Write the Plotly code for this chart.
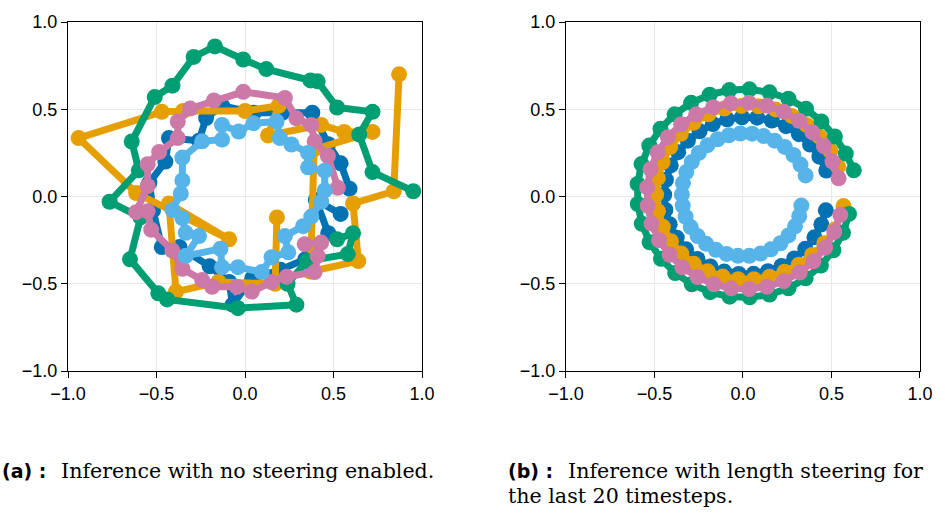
import plotly.graph_objects as go

# Colour per series (Wong palette), in drawing order
series_colors = ["#0072B2", "#E69F00", "#009E73", "#CC79A7", "#56B4E9"]

tick_vals = [-1.0, -0.5, 0.0, 0.5, 1.0]
tick_text = ["\u22121.0", "\u22120.5", "0.0", "0.5", "1.0"]

# ---------------- (a) no steering ----------------
a_blue_x = [0.54, 0.40, 0.47, 0.34, 0.20, 0.04, -0.07, -0.09, -0.20, -0.37, -0.47, -0.52,
            -0.54, -0.45, -0.43, -0.26, -0.22, -0.13, 0.05, 0.21, 0.38, 0.47, 0.54, 0.59]
a_blue_y = [-0.10, -0.02, -0.21, -0.36, -0.42, -0.47, -0.62, -0.49, -0.40, -0.29, -0.29, -0.08,
            0.08, 0.20, 0.335, 0.32, 0.45, 0.52, 0.48, 0.48, 0.48, 0.30, 0.19, 0.045]

a_orange_x = [0.18, 0.17, -0.15, -0.39, -0.43, -0.09, -0.615, -0.94, -0.47, -0.35, 0.0,
              0.19, 0.13, 0.43, 0.56, 0.72, 0.39, 0.37, 0.64, 0.61, 0.84, 0.87]
a_orange_y = [-0.12, -0.50, -0.49, -0.545, -0.04, -0.245, 0.02, 0.335, 0.485, 0.49, 0.49,
              0.52, 0.35, 0.41, 0.37, 0.37, 0.27, -0.43, -0.37, -0.04, 0.03, 0.70]

a_green_x = [0.95, 0.72, 0.645, 0.72, 0.52, 0.41, 0.37, 0.12, -0.01, -0.17, -0.29, -0.41,
             -0.51, -0.64, -0.60, -0.765, -0.59, -0.65, -0.49, -0.44, -0.04, 0.29, 0.24,
             0.35, 0.58, 0.61, 0.52]
a_green_y = [0.03, 0.14, 0.355, 0.485, 0.51, 0.66, 0.665, 0.73, 0.785, 0.86, 0.80, 0.635,
             0.57, 0.315, 0.15, -0.03, -0.12, -0.36, -0.555, -0.59, -0.64, -0.62, -0.50,
             -0.37, -0.33, -0.21, -0.245]

a_pink_x = [0.524, 0.468, 0.393, 0.374, 0.29, 0.225, -0.01, -0.176, -0.31, -0.38, -0.38,
            -0.485, -0.55, -0.55, -0.615, -0.55, -0.53, -0.41, -0.354, -0.242, -0.186,
            -0.046, 0.038, 0.15, 0.235, 0.393, 0.41, 0.43, 0.337]
a_pink_y = [0.05, 0.232, 0.316, 0.41, 0.448, 0.565, 0.60, 0.55, 0.504, 0.43, 0.335,
            0.255, 0.185, 0.06, -0.09, -0.085, -0.19, -0.31, -0.414, -0.479, -0.517,
            -0.517, -0.545, -0.49, -0.46, -0.433, -0.34, -0.264, -0.273]

a_sky_x = [-0.13, -0.036, 0.048, 0.178, 0.197, 0.262, 0.356, 0.356, 0.45, 0.45, 0.43,
           0.374, 0.328, 0.225, 0.244, 0.15, 0.094, -0.04, -0.13, -0.139, -0.335, -0.26,
           -0.335, -0.354, -0.41, -0.363, -0.354, -0.354, -0.242, -0.13]
a_sky_y = [0.41, 0.372, 0.42, 0.43, 0.335, 0.298, 0.25, 0.167, 0.148, 0.035, -0.03,
           -0.115, -0.17, -0.227, -0.32, -0.348, -0.433, -0.405, -0.405, -0.30, -0.34, -0.227,
           -0.208, -0.124, -0.077, 0.017, 0.092, 0.223, 0.316, 0.326]

# ---------------- (b) length steering ----------------
b_blue_x = [0.468, 0.443, 0.404, 0.352, 0.290, 0.218, 0.141, 0.060, -0.024, -0.106, -0.184,
            -0.257, -0.321, -0.374, -0.414, -0.438, -0.445, -0.435, -0.408, -0.366, -0.311,
            -0.245, -0.170, -0.089, -0.005, 0.080, 0.163, 0.243, 0.316, 0.379, 0.432, 0.471]
b_blue_y = [-0.079, -0.160, -0.234, -0.300, -0.355, -0.398, -0.428, -0.443, -0.444, -0.430,
            -0.401, -0.358, -0.303, -0.236, -0.159, -0.077, 0.010, 0.096, 0.178, 0.254, 0.320,
            0.374, 0.415, 0.442, 0.454, 0.452, 0.435, 0.403, 0.357, 0.298, 0.228, 0.149]

b_orange_x = [0.568, 0.520, 0.460, 0.391, 0.316, 0.235, 0.150, 0.062, -0.027, -0.114, -0.199,
              -0.278, -0.348, -0.407, -0.452, -0.480, -0.490, -0.481, -0.454, -0.411, -0.351,
              -0.279, -0.195, -0.105, -0.009, 0.088, 0.184, 0.275, 0.359, 0.432, 0.493, 0.537]
b_orange_y = [-0.055, -0.189, -0.268, -0.335, -0.391, -0.431, -0.460, -0.474, -0.474, -0.459,
              -0.429, -0.385, -0.327, -0.256, -0.174, -0.084, 0.011, 0.105, 0.197, 0.283, 0.359,
              0.422, 0.471, 0.504, 0.519, 0.517, 0.499, 0.462, 0.410, 0.343, 0.262, 0.171]

b_green_x = [0.599, 0.565, 0.511, 0.440, 0.354, 0.257, 0.150, 0.038, -0.075, -0.185, -0.289,
             -0.383, -0.463, -0.527, -0.571, -0.594, -0.595, -0.573, -0.529, -0.466, -0.386,
             -0.293, -0.188, -0.077, 0.037, 0.150, 0.257, 0.356, 0.443, 0.519, 0.581, 0.626]
b_green_y = [-0.100, -0.208, -0.308, -0.396, -0.469, -0.526, -0.562, -0.578, -0.574, -0.548,
             -0.503, -0.439, -0.357, -0.262, -0.156, -0.043, 0.072, 0.186, 0.292, 0.388, 0.471,
             0.537, 0.583, 0.610, 0.614, 0.597, 0.560, 0.503, 0.430, 0.344, 0.246, 0.150]

b_pink_x = [0.550, 0.516, 0.464, 0.398, 0.320, 0.231, 0.135, 0.035, -0.066, -0.164, -0.257,
            -0.342, -0.414, -0.474, -0.516, -0.538, -0.541, -0.522, -0.482, -0.424, -0.349,
            -0.264, -0.168, -0.068, 0.034, 0.135, 0.231, 0.317, 0.393, 0.457, 0.506, 0.540]
b_pink_y = [-0.105, -0.203, -0.293, -0.371, -0.436, -0.485, -0.517, -0.530, -0.526, -0.503,
            -0.462, -0.406, -0.334, -0.250, -0.155, -0.053, 0.052, 0.156, 0.253, 0.340, 0.414,
            0.471, 0.512, 0.535, 0.537, 0.521, 0.486, 0.434, 0.367, 0.289, 0.200, 0.104]

b_sky_x = [0.330, 0.318, 0.294, 0.257, 0.212, 0.158, 0.099, 0.036, -0.029, -0.093, -0.153,
           -0.208, -0.256, -0.295, -0.324, -0.340, -0.345, -0.339, -0.320, -0.289, -0.249,
           -0.200, -0.143, -0.080, -0.015, 0.052, 0.117, 0.179, 0.236, 0.285, 0.325, 0.354]
b_sky_y = [-0.052, -0.113, -0.171, -0.223, -0.268, -0.303, -0.327, -0.340, -0.340, -0.329,
           -0.305, -0.271, -0.227, -0.175, -0.116, -0.053, 0.012, 0.077, 0.140, 0.198, 0.250,
           0.294, 0.328, 0.351, 0.361, 0.360, 0.346, 0.320, 0.284, 0.238, 0.183, 0.121]

panel_a = [(a_blue_x, a_blue_y), (a_orange_x, a_orange_y), (a_green_x, a_green_y),
           (a_pink_x, a_pink_y), (a_sky_x, a_sky_y)]
panel_b = [(b_blue_x, b_blue_y), (b_orange_x, b_orange_y), (b_green_x, b_green_y),
           (b_pink_x, b_pink_y), (b_sky_x, b_sky_y)]

LINE_W = 7
MARKER = 16

fig = go.Figure()
for (xs, ys), col in zip(panel_a, series_colors):
    fig.add_trace(go.Scatter(x=xs, y=ys, mode="lines+markers", xaxis="x", yaxis="y",
                             line=dict(color=col, width=LINE_W),
                             marker=dict(color=col, size=MARKER), showlegend=False))
for (xs, ys), col in zip(panel_b, series_colors):
    fig.add_trace(go.Scatter(x=xs, y=ys, mode="lines+markers", xaxis="x2", yaxis="y2",
                             line=dict(color=col, width=LINE_W),
                             marker=dict(color=col, size=MARKER), showlegend=False))

axis_style = dict(
    range=[-1, 1], tickvals=tick_vals, ticktext=tick_text,
    ticks="outside", ticklen=6, tickwidth=1.2, tickcolor="black",
    showline=True, linecolor="black", linewidth=1.2, mirror=True,
    showgrid=True, gridcolor="#e8e8e8", gridwidth=1, zeroline=False,
    tickfont=dict(family="Liberation Sans, Arial, sans-serif", size=18, color="black"),
)

W, H = 945, 516
ML, MR, MT, MB = 68, 18, 15, 145
plot_w = W - ML - MR
plot_h = H - MT - MB

fig.update_layout(
    width=W, height=H,
    margin=dict(l=ML, r=MR, t=MT, b=MB, pad=0),
    paper_bgcolor="white", plot_bgcolor="white",
    xaxis=dict(domain=[0, 357 / plot_w], anchor="y", **axis_style),
    yaxis=dict(domain=[0, 1], anchor="x", **axis_style),
    xaxis2=dict(domain=[(570 - ML) / plot_w, 1], anchor="y2", **axis_style),
    yaxis2=dict(domain=[0, 1], anchor="x2", **axis_style),
)


def px_x(px):
    return (px - ML) / plot_w


def px_y(py):
    return (H - MB - py) / plot_h


label_font = dict(family="DejaVu Sans", size=19, color="black")
text_font = dict(family="DejaVu Serif", size=20.6, color="black")

captions = [
    (0, 473, "<b>(a) :</b>", label_font),
    (60, 473, "Inference with no steering enabled.", text_font),
    (511, 473, "<b>(b) :</b>", label_font),
    (571, 473, "Inference with length steering for", text_font),
    (511, 498, "the last 20 timesteps.", text_font),
]
for x0, y0, txt, fnt in captions:
    fig.add_annotation(x=px_x(x0), y=px_y(y0), xref="paper", yref="paper",
                       xanchor="left", yanchor="middle", text=txt, showarrow=False,
                       font=fnt, borderpad=0)

fig.write_html("out.html")
